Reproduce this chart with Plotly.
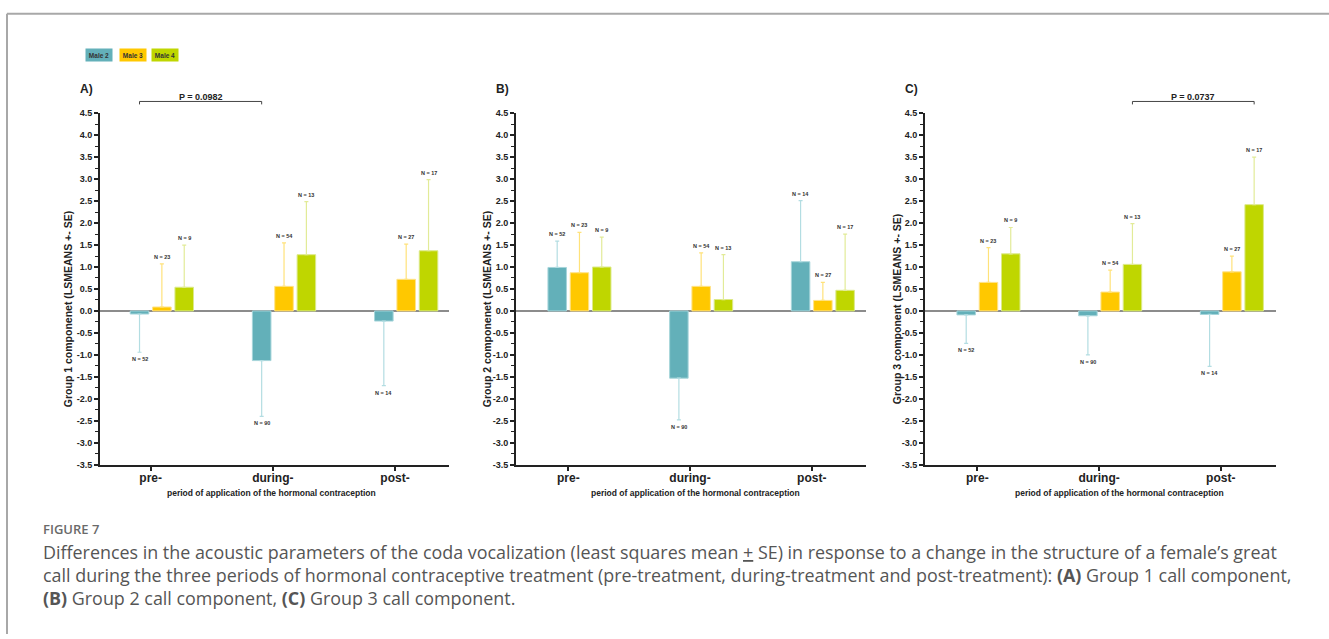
import plotly.graph_objects as go

# ---- data -------------------------------------------------------------
periods = ["pre-", "during-", "post-"]
males = ["Male 2", "Male 3", "Male 4"]

# sample sizes per male and period
n_male2 = [52, 90, 14]
n_male3 = [23, 54, 27]
n_male4 = [9, 13, 17]

# Group 1 component: LS means and SE (rows: Male 2, Male 3, Male 4)
g1_mean = [[-0.07, -1.13, -0.23],
           [0.09, 0.56, 0.72],
           [0.54, 1.28, 1.37]]
g1_se = [[0.87, 1.27, 1.47],
         [0.98, 0.99, 0.80],
         [0.96, 1.21, 1.62]]

# Group 2 component
g2_mean = [[0.99, -1.53, 1.12],
           [0.87, 0.56, 0.24],
           [1.00, 0.26, 0.47]]
g2_se = [[0.60, 0.95, 1.39],
         [0.92, 0.76, 0.41],
         [0.68, 1.02, 1.28]]

# Group 3 component
g3_mean = [[-0.09, -0.11, -0.08],
           [0.65, 0.43, 0.89],
           [1.30, 1.06, 2.42]]
g3_se = [[0.65, 0.89, 1.18],
         [0.79, 0.50, 0.36],
         [0.60, 0.93, 1.08]]

y_ticks = [-3.5, -3.0, -2.5, -2.0, -1.5, -1.0, -0.5, 0.0,
           0.5, 1.0, 1.5, 2.0, 2.5, 3.0, 3.5, 4.0, 4.5]
y_tick_text = ["-3.5", "-3.0", "-2.5", "-2.0", "-1.5", "-1.0", "-0.5", "0.0",
               "0.5", "1.0", "1.5", "2.0", "2.5", "3.0", "3.5", "4.0", "4.5"]

# ---- styling ----------------------------------------------------------
W, H = 1329, 639
bar_colors = ["#63b0b9", "#ffc800", "#bfd600"]
edge_colors = ["#a6d5da", "#ffe28a", "#dce98a"]
err_colors = ["#b3dde2", "#ffe27a", "#e2eb98"]
font_chart = "Liberation Sans, Arial, sans-serif"
font_caption = "Open Sans, sans-serif"
ink = "#222222"

slot = 0.183     # spacing between neighbouring bars (category units)
bar_w = 0.152    # bar width (category units)


def px(x):
    return x / W


def py(y):
    return 1 - y / H


def note(**kw):
    base = dict(showarrow=False, xanchor="center", yanchor="middle")
    base.update(kw)
    return base


panels = [
    dict(means=g1_mean, ses=g1_se, label="A)", ytitle="Group 1 componenet (LSMEANS +- SE)",
         dom=(100, 449), rng=(-0.415, 2.442), ytitle_x=68, xtitle_x=271, label_x=78),
    dict(means=g2_mean, ses=g2_se, label="B)", ytitle="Group 2 componenet (LSMEANS +- SE)",
         dom=(516, 866), rng=(-0.43, 2.446), ytitle_x=487, xtitle_x=695, label_x=494),
    dict(means=g3_mean, ses=g3_se, label="C)", ytitle="Group 3 component (LSMEANS +- SE)",
         dom=(925, 1276), rng=(-0.43, 2.454), ytitle_x=897, xtitle_x=1119, label_x=903),
]
n_all = [n_male2, n_male3, n_male4]

fig = go.Figure()
annotations = []
shapes = []

for p, panel in enumerate(panels):
    sfx = "" if p == 0 else str(p + 1)
    xref, yref = "x" + sfx, "y" + sfx
    for j, name in enumerate(males):
        xs = [i + (j - 0.5) * slot for i in range(len(periods))]
        means = panel["means"][j]
        ses = panel["ses"][j]
        plus = [s if m >= 0 else 0 for m, s in zip(means, ses)]
        minus = [s if m < 0 else 0 for m, s in zip(means, ses)]
        fig.add_trace(go.Bar(
            x=xs, y=means, width=bar_w, name=name, showlegend=False,
            marker=dict(color=bar_colors[j], line=dict(color=edge_colors[j], width=1)),
            error_y=dict(type="data", symmetric=False, array=plus, arrayminus=minus,
                         color=err_colors[j], thickness=1.2, width=2),
            xaxis=xref, yaxis=yref,
        ))
        for x, m, s, n in zip(xs, means, ses, n_all[j]):
            end = m + s if m >= 0 else m - s
            annotations.append(note(
                x=x, y=end, xref=xref, yref=yref, text=f"<b>N = {n}</b>",
                yshift=7 if m >= 0 else -7,
                font=dict(family=font_chart, size=5.5, color="#333333"),
            ))

    fig.layout["xaxis" + sfx] = dict(
        domain=[px(panel["dom"][0]), px(panel["dom"][1])], range=list(panel["rng"]),
        anchor=yref, tickvals=[0, 1, 2], ticktext=periods, ticks="outside",
        ticklen=4, tickwidth=1.5, tickcolor=ink, showline=True, linecolor=ink,
        linewidth=2, zeroline=False, showgrid=False, ticklabelstandoff=-3,
        tickfont=dict(family=font_chart, size=12, color=ink, weight="bold"))
    fig.layout["yaxis" + sfx] = dict(
        domain=[py(467), py(110)], range=[-3.5, 4.5], anchor=xref,
        tickvals=y_ticks, ticktext=y_tick_text, ticks="outside", ticklen=4,
        tickwidth=1.5, tickcolor=ink, showline=True, linecolor=ink, linewidth=2,
        zeroline=True, zerolinecolor="#8c8c8c", zerolinewidth=1.5, showgrid=False,
        minor=dict(dtick=0.25, tick0=0, ticks="outside", ticklen=3, tickwidth=1, tickcolor=ink),
        tickfont=dict(family=font_chart, size=9, color=ink, weight="bold"))

    # axis titles and panel letter
    annotations.append(note(
        x=px(panel["ytitle_x"]), y=py(309), xref="paper", yref="paper",
        text=f"<b>{panel['ytitle']}</b>", textangle=-90,
        font=dict(family=font_chart, size=10.5, color=ink)))
    annotations.append(note(
        x=px(panel["xtitle_x"]), y=py(496), xref="paper", yref="paper",
        text="<b>period of application of the hormonal contraception</b>",
        font=dict(family=font_chart, size=8.5, color=ink)))
    annotations.append(note(
        x=px(panel["label_x"]), y=py(85), xref="paper", yref="paper", xanchor="left",
        text=f"<b>{panel['label']}</b>",
        font=dict(family=font_chart, size=12, color=ink)))

# significance brackets: (panel, male index, first period, second period, label)
brackets = [(0, 0, 0, 1, "P = 0.0982"), (2, 2, 1, 2, "P = 0.0737")]
for p, j, a, b, txt in brackets:
    sfx = "" if p == 0 else str(p + 1)
    x0 = a + (j - 0.5) * slot
    x1 = b + (j - 0.5) * slot
    shapes.append(dict(
        type="path", xref="x" + sfx, yref="paper",
        path=f"M {x0},{py(101)} L {x0},{py(98)} L {x1},{py(98)} L {x1},{py(101)}",
        line=dict(color="#444444", width=1)))
    annotations.append(note(
        x=(x0 + x1) / 2, y=py(93), xref="x" + sfx, yref="paper", text=f"<b>{txt}</b>",
        font=dict(family=font_chart, size=9, color=ink)))

# legend boxes
for j, (name, cx) in enumerate(zip(males, [99, 132.5, 165])):
    annotations.append(note(
        x=px(cx), y=py(51), xref="paper", yref="paper", text=f"<b>{name}</b>",
        bgcolor=bar_colors[j], width=24, height=10,
        font=dict(family=font_chart, size=6.5, color="#333333")))

# caption
annotations.append(note(
    x=px(41), y=py(532), xref="paper", yref="paper", xanchor="left", text="FIGURE 7",
    font=dict(family=font_caption, size=13, color="#6a6a6a", weight=600)))
caption_lines = [
    "Differences in the acoustic parameters of the coda vocalization (least squares mean <u>+</u> SE) "
    "in response to a change in the structure of a female\u2019s great",
    "call during the three periods of hormonal contraceptive treatment (pre-treatment, "
    "during-treatment and post-treatment): <b>(A)</b> Group 1 call component,",
    "<b>(B)</b> Group 2 call component, <b>(C)</b> Group 3 call component.",
]
for k, line in enumerate(caption_lines):
    annotations.append(note(
        x=px(41), y=py(556 + 23 * k), xref="paper", yref="paper", xanchor="left",
        text=line, font=dict(family=font_caption, size=17.9, color="#555555")))

# frame around the figure
shapes.append(dict(type="line", xref="paper", yref="paper", x0=px(7), x1=1, y0=py(9), y1=py(9),
                   line=dict(color="#a8a8a8", width=2)))
shapes.append(dict(type="line", xref="paper", yref="paper", x0=px(7), x1=px(7), y0=py(9), y1=0,
                   line=dict(color="#a8a8a8", width=2)))

fig.update_layout(
    width=W, height=H, margin=dict(l=0, r=0, t=0, b=0),
    paper_bgcolor="white", plot_bgcolor="white",
    barmode="overlay", showlegend=False,
    annotations=annotations, shapes=shapes,
)

fig.write_html("out.html", config={"displayModeBar": False})
